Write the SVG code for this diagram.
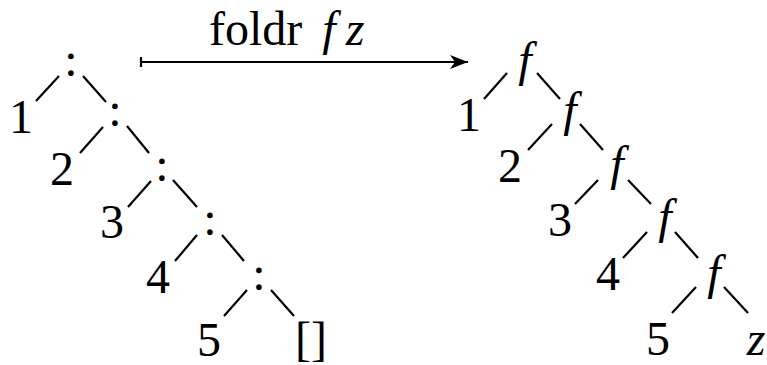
<svg xmlns="http://www.w3.org/2000/svg" width="767" height="365" viewBox="0 0 767 365">
<defs>
<style>
text{font-family:"Liberation Serif","Times New Roman",serif;font-size:48px;fill:#000;text-anchor:middle}
.it{font-style:italic}
.e{stroke:#000;stroke-width:2.2;fill:none}
</style>
<marker id="ah" markerUnits="userSpaceOnUse" markerWidth="20" markerHeight="16" refX="18" refY="7" orient="auto" viewBox="0 0 20 16">
<path d="M18,7 L0,0 L5,7 L0,14 Z" fill="#000"/>
</marker>
</defs>
<rect width="767" height="365" fill="#fff"/>
<g id="connectors">
<path class="e" d="M36,101 L59,76 M83,76 L106,102"/>
<path class="e" d="M80,153 L103,127 M127,126 L149,153"/>
<path class="e" d="M128,207 L151,181 M173,180 L197,207"/>
<path class="e" d="M175,261 L197,235 M222,235 L244,261"/>
<path class="e" d="M224,316 L247,290 M271,290 L294,316"/>
<path class="e" d="M484,99 L507,73 M537,73 L560,99"/>
<path class="e" d="M528,150 L552,124 M580,124 L603,150"/>
<path class="e" d="M575,204 L598,180 M628,180 L651,204"/>
<path class="e" d="M623,258 L647,232 M675,232 L698,258"/>
<path class="e" d="M672,313 L696,287 M724,287 L748,313"/>
<g id="foldr-arrow">
<path class="e" d="M141,62 L468,62" marker-end="url(#ah)" stroke-width="2"/>
<path class="e" d="M141,57 L141,67" stroke-width="1.6"/>
<text x="209" y="45" style="text-anchor:start">foldr</text>
<text class="it" x="329" y="45">f</text>
<text class="it" x="355" y="45">z</text>
</g>
</g>
<g id="left-tree">
<g id="cons1"><text x="71" y="76">:</text></g>
<g id="cons2"><text x="115" y="126">:</text></g>
<g id="cons3"><text x="162" y="181">:</text></g>
<g id="cons4"><text x="210" y="235">:</text></g>
<g id="cons5"><text x="259" y="290">:</text></g>
<g id="l1"><text x="21" y="133">1</text></g>
<g id="l2"><text x="62" y="185">2</text></g>
<g id="l3"><text x="112" y="238">3</text></g>
<g id="l4"><text x="158" y="293">4</text></g>
<g id="l5"><text x="209" y="356">5</text></g>
<g id="nil"><text x="311" y="355">[]</text></g>
</g>
<g id="right-tree">
<g id="f1"><text class="it" x="525" y="76">f</text></g>
<g id="f2"><text class="it" x="570" y="126">f</text></g>
<g id="f3"><text class="it" x="617" y="180">f</text></g>
<g id="f4"><text class="it" x="665" y="233">f</text></g>
<g id="f5"><text class="it" x="714" y="289">f</text></g>
<g id="r1"><text x="469" y="131">1</text></g>
<g id="r2"><text x="510" y="182">2</text></g>
<g id="r3"><text x="560" y="236">3</text></g>
<g id="r4"><text x="608" y="290">4</text></g>
<g id="r5"><text x="658" y="355">5</text></g>
<g id="z"><text class="it" x="756" y="355">z</text></g>
</g>
</svg>
